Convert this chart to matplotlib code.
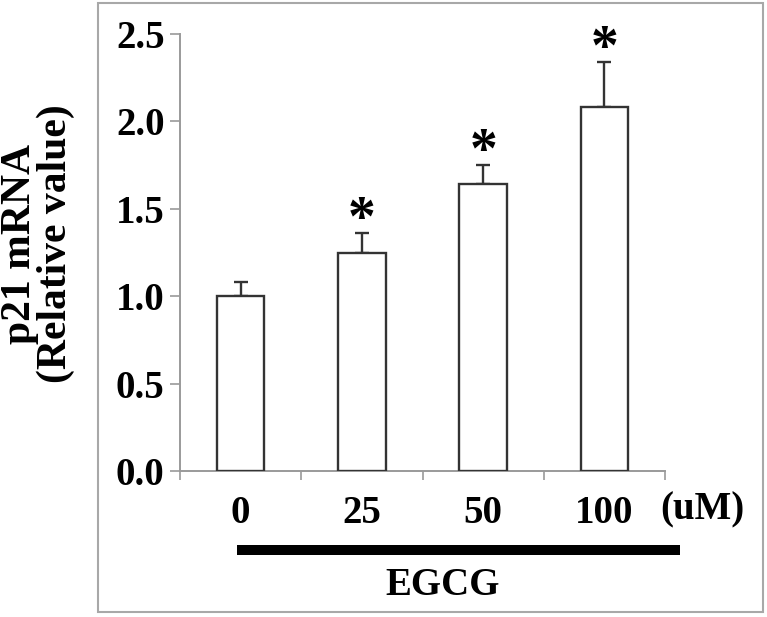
"""Relative p21 mRNA after EGCG treatment: bar chart with SD error bars."""

import numpy as np
import matplotlib.pyplot as plt
import matplotlib.patches as mpatches
import matplotlib.transforms as mtransforms

# Data
doses = ["0", "25", "50", "100"]
p21_mean = [1.00, 1.25, 1.64, 2.08]
p21_err = [0.08, 0.11, 0.11, 0.26]
significant = [False, True, True, True]

y_ticks = [0.0, 0.5, 1.0, 1.5, 2.0, 2.5]

plt.rcParams["font.family"] = ["Liberation Serif", "DejaVu Serif"]
plt.rcParams["font.weight"] = "bold"

grey = "#9a9a9a"
fs = 28

fig = plt.figure(figsize=(7.67, 6.17), dpi=100)
ax = fig.add_axes([0.2347, 0.2366, 0.6323, 0.7083])

x = np.arange(len(doses))
ax.bar(x, p21_mean, width=0.39, color="white", edgecolor="#333333",
       linewidth=1.7, zorder=3)
ax.errorbar(x, p21_mean, yerr=[np.zeros(len(x)), p21_err], fmt="none",
            ecolor="#333333", elinewidth=1.7, capsize=5, capthick=1.7,
            zorder=2)

# Significance stars
for xi, m, e, s in zip(x, p21_mean, p21_err, significant):
    if s:
        ax.text(xi, m + e - 0.08, "*", ha="center", va="bottom",
                fontsize=40, fontweight="bold")

ax.set_xlim(-0.5, len(doses) - 0.5)
ax.set_ylim(0, 2.5)
ax.set_yticks(y_ticks)
ax.set_yticklabels([f"{v:.1f}" for v in y_ticks], fontsize=fs, fontweight="bold")
ax.set_xticks(x)
ax.set_xticklabels(doses, fontsize=fs, fontweight="bold")
ax.set_xticks(np.arange(-0.5, len(doses)), minor=True)

ax.tick_params(axis="x", which="major", length=0, pad=17)
ax.tick_params(axis="x", which="minor", length=6.5, width=1.2, color=grey,
               direction="out")
ax.tick_params(axis="y", length=7, width=1.2, color=grey, direction="out",
               pad=4)

for side in ("top", "right"):
    ax.spines[side].set_visible(False)
for side in ("left", "bottom"):
    ax.spines[side].set_color(grey)
    ax.spines[side].set_linewidth(1.4)

ax.set_ylabel("p21 mRNA\n(Relative value)", fontsize=30, fontweight="bold",
              linespacing=0.9)
ax.yaxis.set_label_coords(-0.2165, 0.52)

# Unit label, treatment bar and treatment name below the axis
trans = mtransforms.blended_transform_factory(ax.transData, ax.transAxes)
ax.text(3.46, -0.089, "(uM)", transform=trans, ha="left", va="center",
        fontsize=fs, fontweight="bold")
ax.plot([-0.03, 3.62], [-0.181, -0.181], transform=trans, color="black",
        linewidth=7.2, solid_capstyle="butt", clip_on=False)
ax.text(1.67, -0.261, "EGCG", transform=trans, ha="center", va="center",
        fontsize=fs, fontweight="bold")

# Grey outer frame
frame = mpatches.Rectangle((0.1278, 0.0081), 0.867, 0.987,
                           transform=fig.transFigure, fill=False,
                           edgecolor="#a8a8a8", linewidth=1.5)
fig.patches.append(frame)

fig.savefig("out.png", dpi=100, facecolor="white")
plt.close(fig)
